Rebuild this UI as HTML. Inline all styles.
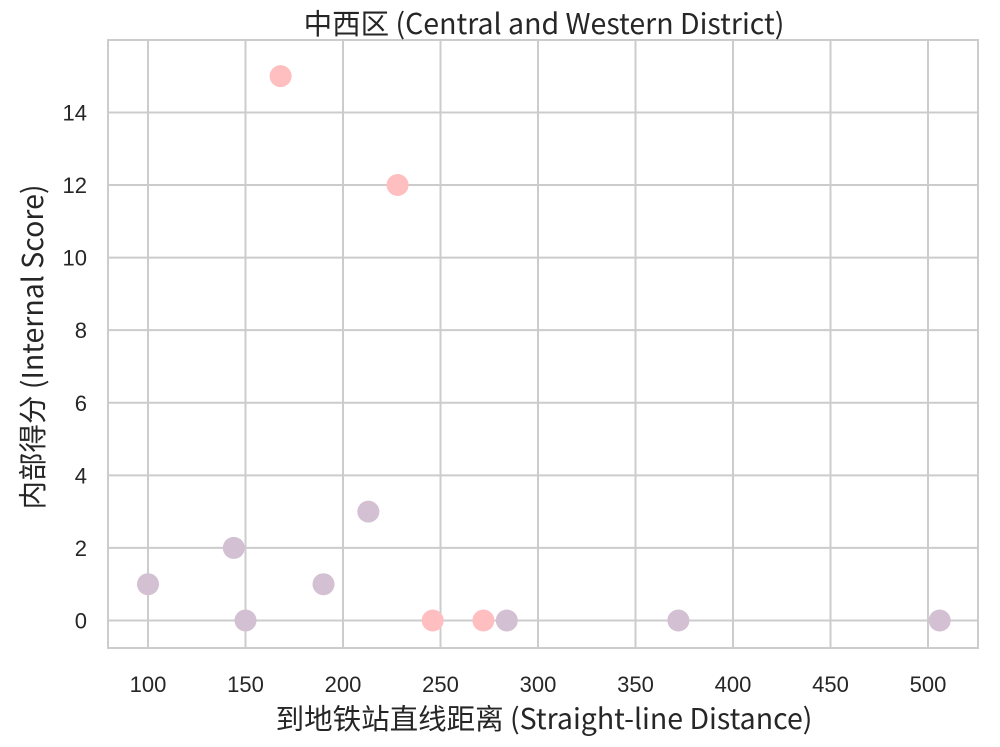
<!DOCTYPE html>
<html><head><meta charset="utf-8"><style>
body{margin:0;background:#fff;font-family:"Liberation Sans","Noto Sans CJK SC",sans-serif;}
svg text{font-family:"Liberation Sans","Noto Sans CJK SC",sans-serif;fill:#262626;}
svg text.t{font-family:"Noto Sans CJK SC",sans-serif;}
</style></head><body>
<svg id="c" width="1000" height="742"></svg>
<script>
const xs=[100,144,150,168,190,213,228,246,272,284,372,506];
const ys=[1,2,0,15,1,3,12,0,0,0,0,0];
const groups=["b","b","b","a","b","b","a","a","a","b","b","b"];
const xTicks=[100,150,200,250,300,350,400,450,500];
const yTicks=[0,2,4,6,8,10,12,14];
const L=108,R=978,T=40,B=648;
const X=v=>148+(v-100)*1.95;
const Y=v=>620.5-v*36.29;
const svg=document.getElementById('c');
const NS='http://www.w3.org/2000/svg';
function mk(t,a,p){const e=document.createElementNS(NS,t);for(const k in a)e.setAttribute(k,a[k]);(p||svg).appendChild(e);return e;}
xTicks.forEach(t=>{
 const l=mk('line',{x1:X(t),x2:X(t),y1:T,y2:B,stroke:'#cccccc','stroke-width':2});
 
 
 const tx=mk('text',{x:X(t),y:692,'text-anchor':'middle','font-size':22});tx.textContent=t;
 
 
});
yTicks.forEach(t=>{
 const l=mk('line',{x1:L,x2:R,y1:Y(t),y2:Y(t),stroke:'#cccccc','stroke-width':2});
 
 
 const tx=mk('text',{x:87,y:Y(t)+8,'text-anchor':'end','font-size':22});tx.textContent=t;
 
 
});
const fr=mk('rect',{x:L,y:T,width:R-L,height:B-T,fill:'none',stroke:'#cccccc','stroke-width':2});


xs.forEach((v,i)=>{
 const c=mk('circle',{cx:X(v),cy:Y(ys[i]),r:11,fill:groups[i]=='a'?'#ffbfc0':'#d3c0d2'});
 
 
});
let t=mk('text',{class:'t',x:544,y:34,'text-anchor':'middle','font-size':28.5});t.textContent='中西区 (Central and Western District)';


t=mk('text',{class:'t',x:544,y:729,'text-anchor':'middle','font-size':28.5});t.textContent='到地铁站直线距离 (Straight-line Distance)';


t=mk('text',{class:'t',x:0,y:0,'text-anchor':'middle','font-size':28.5,transform:'translate(43,347) rotate(-90)'});t.textContent='内部得分 (Internal Score)';


</script>
</body></html>
